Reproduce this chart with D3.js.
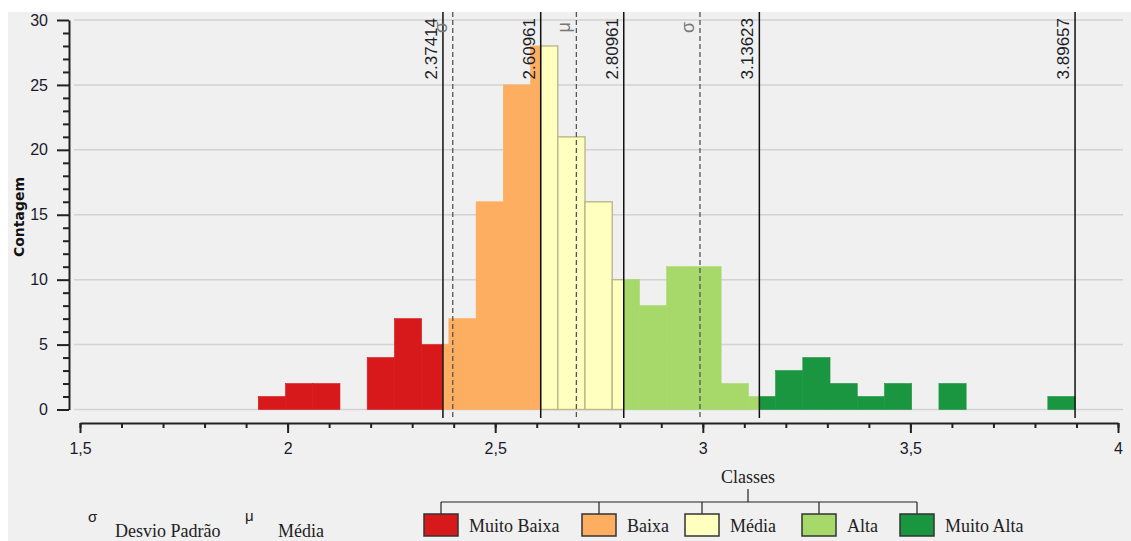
<!DOCTYPE html>
<html>
<head>
<meta charset="utf-8">
<script src="https://cdn.jsdelivr.net/npm/d3@7"></script>
<style>
  html, body { margin: 0; padding: 0; background: #ffffff; }
  svg { display: block; }
</style>
</head>
<body>
<svg id="chart" width="1131" height="541"></svg>
<script>
// ---------------- data ----------------
const histMin = 1.9294;                 // lower edge of the first histogram bin
const histMax = 3.89657;                // upper edge of the last histogram bin
const binCounts = [1, 2, 2, 0, 4, 7, 5, 7, 16, 25, 28, 21, 16, 10, 8, 11, 11, 2, 1, 3, 4, 2, 1, 2, 0, 2, 0, 0, 0, 1];
const classBreaks = [2.37414, 2.60961, 2.80961, 3.13623, 3.89657];
const classBreakLabels = ["2.37414", "2.60961", "2.80961", "3.13623", "3.89657"];
const classNames = ["Muito Baixa", "Baixa", "Média", "Alta", "Muito Alta"];
const classColors = ["#d7191c", "#fdae61", "#ffffbf", "#a6d96a", "#1a9641"];
const meanValue = 2.6955;
const stdDev = 0.2977;
const xTickValues = [1.5, 2, 2.5, 3, 3.5, 4];
const yTickValues = [0, 5, 10, 15, 20, 25, 30];

// ---------------- layout ----------------
const W = 1131, H = 541;
const svg = d3.select("#chart");
const x = d3.scaleLinear().domain([1.5, 4]).range([80, 1118]);
const y = d3.scaleLinear().domain([0, 30]).range([409.5, 20]);
const plotTop = 12, lineBottom = 418, xAxisY = 423, yAxisX = 69;
const locale = d3.formatLocale({decimal: ",", thousands: ".", grouping: [3], currency: ["", ""]});
const fmt = locale.format("~g");

// background
svg.append("rect").attr("width", W).attr("height", H).attr("fill", "#ffffff");
svg.append("rect").attr("x", 8).attr("y", 12).attr("width", W - 8).attr("height", H - 12).attr("fill", "#f0f0f0");

// gridlines
svg.append("g").selectAll("line").data(yTickValues).join("line")
  .attr("x1", 74).attr("x2", 1123)
  .attr("y1", d => y(d)).attr("y2", d => y(d))
  .attr("stroke", "#d2d2d2").attr("stroke-width", 1.5);

// histogram segments (each bin split by class breaks)
const nBins = binCounts.length;
const binW = (histMax - histMin) / nBins;
const classLows = [histMin].concat(classBreaks.slice(0, -1));
const segments = [];
binCounts.forEach((c, i) => {
  if (c <= 0) return;
  const a = histMin + i * binW, b = histMin + (i + 1) * binW;
  classBreaks.forEach((hi, k) => {
    const lo = classLows[k];
    const s = Math.max(a, lo), e = Math.min(b, hi);
    if (e - s > 1e-9) segments.push({x0: s, x1: e, count: c, k});
  });
});
const barG = svg.append("g");
barG.selectAll("rect").data(segments.filter(d => d.k !== 2)).join("rect")
  .attr("x", d => x(d.x0)).attr("width", d => x(d.x1) - x(d.x0))
  .attr("y", d => y(d.count)).attr("height", d => y(0) - y(d.count))
  .attr("fill", d => classColors[d.k])
  .attr("stroke", d => classColors[d.k]).attr("stroke-width", 0.6);
barG.selectAll("rect.mid").data(segments.filter(d => d.k === 2)).join("rect")
  .attr("class", "mid")
  .attr("x", d => x(d.x0)).attr("width", d => x(d.x1) - x(d.x0))
  .attr("y", d => y(d.count)).attr("height", d => y(0) - y(d.count))
  .attr("fill", classColors[2])
  .attr("stroke", "#b9b98a").attr("stroke-width", 1.4);

// class break lines
svg.append("g").selectAll("line").data(classBreaks).join("line")
  .attr("x1", d => x(d)).attr("x2", d => x(d))
  .attr("y1", plotTop).attr("y2", lineBottom)
  .attr("stroke", "#111").attr("stroke-width", 1.5);
svg.append("g").selectAll("text").data(classBreaks).join("text")
  .attr("transform", d => `translate(${x(d) - 6},18) rotate(-90)`)
  .attr("text-anchor", "end")
  .attr("font-family", "Liberation Sans, Arial, sans-serif").attr("font-size", 17)
  .attr("fill", "#1e1e28")
  .text((d, i) => classBreakLabels[i]);

// mean / std dev dashed lines
const statLines = [
  {v: meanValue - stdDev, sym: "σ"},
  {v: meanValue, sym: "μ"},
  {v: meanValue + stdDev, sym: "σ"}
];
svg.append("g").selectAll("line").data(statLines).join("line")
  .attr("x1", d => x(d.v)).attr("x2", d => x(d.v))
  .attr("y1", plotTop).attr("y2", lineBottom)
  .attr("stroke", "#555").attr("stroke-width", 1.3).attr("stroke-dasharray", "5,3");
svg.append("g").selectAll("text").data(statLines).join("text")
  .attr("transform", d => `translate(${x(d.v) - 6},22) rotate(-90)`)
  .attr("text-anchor", "end")
  .attr("font-family", "Liberation Sans, Arial, sans-serif").attr("font-size", 18)
  .attr("fill", "#777")
  .text(d => d.sym);

// y axis
const yAxisG = svg.append("g").attr("transform", `translate(${yAxisX},0)`);
yAxisG.call(d3.axisLeft(y).tickValues(d3.range(0, 31, 1).filter(v => v % 5 !== 0)).tickSize(6).tickFormat(""));
yAxisG.call(g => g.select(".domain").remove());
const yMajor = svg.append("g").attr("transform", `translate(${yAxisX},0)`)
  .call(d3.axisLeft(y).tickValues(yTickValues).tickSize(12).tickSizeOuter(0).tickPadding(9).tickFormat(d3.format("d")));
[yAxisG, yMajor].forEach(g => {
  g.selectAll("line").attr("stroke", "#222").attr("stroke-width", 2);
  g.selectAll(".domain").attr("stroke", "#222").attr("stroke-width", 2);
});
yMajor.selectAll("text").attr("font-family", "Liberation Sans, Arial, sans-serif").attr("font-size", 16).attr("fill", "#1a1a2c");

// x axis
const xMinor = svg.append("g").attr("transform", `translate(0,${xAxisY})`)
  .call(d3.axisBottom(x).tickValues(d3.range(15, 41, 1).map(v => v / 10)).tickSize(5).tickFormat(""));
xMinor.select(".domain").remove();
const xMajor = svg.append("g").attr("transform", `translate(0,${xAxisY})`)
  .call(d3.axisBottom(x).tickValues(xTickValues).tickSize(10).tickSizeOuter(0).tickPadding(10).tickFormat(fmt));
[xMinor, xMajor].forEach(g => {
  g.selectAll("line").attr("stroke", "#222").attr("stroke-width", 2);
  g.selectAll(".domain").attr("stroke", "#222").attr("stroke-width", 2);
});
xMajor.selectAll("text").attr("font-family", "Liberation Sans, Arial, sans-serif").attr("font-size", 16).attr("fill", "#1a1a2c");

// axis titles
svg.append("text")
  .attr("transform", "translate(24,217) rotate(-90)")
  .attr("text-anchor", "middle")
  .attr("font-family", "DejaVu Sans, sans-serif").attr("font-weight", "bold").attr("font-size", 14)
  .attr("fill", "#111")
  .text("Contagem");
svg.append("text")
  .attr("x", 748).attr("y", 483)
  .attr("text-anchor", "middle")
  .attr("font-family", "Liberation Serif, Times New Roman, serif").attr("font-size", 18)
  .attr("fill", "#222")
  .text("Classes");

// legend tree
const legendBoxX = [424, 582, 685, 802, 900];
const boxW = 34, boxH = 22, boxY = 514, treeY = 502;
const lg = svg.append("g");
lg.append("line").attr("x1", 748).attr("x2", 748).attr("y1", 489).attr("y2", treeY).attr("stroke", "#222").attr("stroke-width", 1.2);
lg.append("line").attr("x1", legendBoxX[0] + boxW / 2).attr("x2", legendBoxX[4] + boxW / 2)
  .attr("y1", treeY).attr("y2", treeY).attr("stroke", "#222").attr("stroke-width", 1.2);
const items = lg.selectAll("g.item").data(classNames).join("g").attr("class", "item")
  .attr("transform", (d, i) => `translate(${legendBoxX[i]},0)`);
items.append("line").attr("x1", boxW / 2).attr("x2", boxW / 2).attr("y1", treeY).attr("y2", boxY)
  .attr("stroke", "#222").attr("stroke-width", 1.2);
items.append("rect").attr("x", 0).attr("y", boxY).attr("width", boxW).attr("height", boxH)
  .attr("fill", (d, i) => classColors[i]).attr("stroke", "#333").attr("stroke-width", 1.5);
items.append("text").attr("x", boxW + 11).attr("y", 532)
  .attr("font-family", "Liberation Serif, Times New Roman, serif").attr("font-size", 18)
  .attr("fill", "#222")
  .text(d => d);

// stat legend
const sl = svg.append("g");
sl.append("text").attr("x", 88).attr("y", 522).attr("font-family", "Liberation Sans, Arial, sans-serif").attr("font-size", 15).attr("fill", "#222").text("σ");
sl.append("text").attr("x", 115).attr("y", 537).attr("font-family", "Liberation Serif, Times New Roman, serif").attr("font-size", 18).attr("fill", "#222").text("Desvio Padrão");
sl.append("text").attr("x", 245).attr("y", 521).attr("font-family", "Liberation Sans, Arial, sans-serif").attr("font-size", 15).attr("fill", "#222").text("μ");
sl.append("text").attr("x", 278).attr("y", 537).attr("font-family", "Liberation Serif, Times New Roman, serif").attr("font-size", 18).attr("fill", "#222").text("Média");
</script>
</body>
</html>
